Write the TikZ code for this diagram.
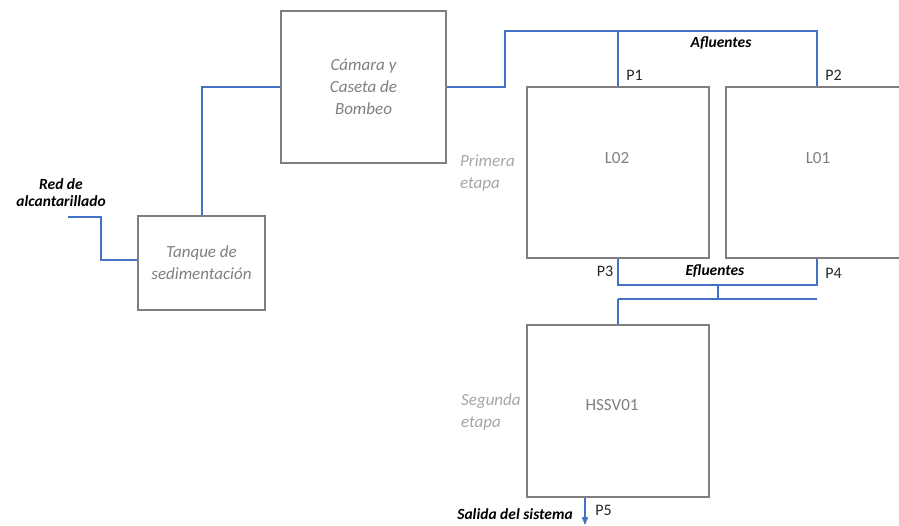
\documentclass[tikz,border=0pt]{standalone}
\usepackage{fontspec}
\setmainfont{Carlito}
\usepackage{xcolor}
\usetikzlibrary{positioning, arrows}

\definecolor{pipeblue}{HTML}{4472C4}
\definecolor{boxgray}{HTML}{7F7F7F}
\definecolor{stagegray}{HTML}{A6A6A6}

\begin{document}
\begin{tikzpicture}[x=1pt,y=-1pt,>=stealth']
       \tikzstyle{unit}=[draw=boxgray,line width=2.4pt,text=boxgray,font=\fontsize{17}{22}\selectfont\itshape,align=center,inner sep=0pt]
       \tikzstyle{unitlabel}=[text=boxgray,font=\fontsize{17}{22}\selectfont]
       \tikzstyle{pipe}=[draw=pipeblue,line width=2pt]
       \tikzstyle{port}=[font=\fontsize{16}{18}\selectfont,text=black!85]
       \tikzstyle{flowtag}=[font=\fontsize{15.5}{17}\selectfont\bfseries\itshape,align=center]
       \tikzstyle{stage}=[font=\fontsize{17}{22}\selectfont\itshape,text=stagegray,align=left,inner sep=0pt]

       \clip (0,0) rectangle (899,525);

       % units
       \node[unit, minimum width=127pt, minimum height=94pt]  (tanque) at (201.5,263) {Tanque de\\sedimentación};
       \node[unit, minimum width=165pt, minimum height=152pt] (camara) at (363.5,87)  {Cámara y\\Caseta de\\Bombeo};
       \node[unit, minimum width=182pt, minimum height=171pt] (L02)    at (618,172.5) {};
       \node[unit, minimum width=182pt, minimum height=171pt] (L01)    at (817,172.5) {};
       \node[unit, minimum width=182pt, minimum height=172pt] (hssv)   at (618,411)   {};

       \node[unitlabel] (L02txt)  at (617,158) {L02};
       \node[unitlabel] (L01txt)  at (818,158) {L01};
       \node[unitlabel] (hssvtxt) at (612,405) {HSSV01};

       \node[stage, anchor=west] (prim) at (460,173) {Primera\\etapa};
       \node[stage, anchor=west] (seg)  at (461,412) {Segunda\\etapa};

       % free ends
       \coordinate (red)  at (68,217);
       \coordinate (afl)  at (505,31);
       \coordinate (efl)  at (618,285);
       \coordinate (mix)  at (618,299);

       % pipes
       \draw[pipe] (red) -- ++(33,0) |- ([yshift=3pt]tanque.west);
       \draw[pipe] (tanque.north) |- (camara.west);
       \draw[pipe] (camara.east) -| (afl) -| (L01.north);
       \draw[pipe] (L02.north) -- (L02.north |- afl);
       \draw[pipe] (L02.south) -- (efl) -| (L01.south);
       \draw[pipe] (718,285) -- (718,299);
       \draw[pipe] (mix) -- ++(199,0);
       \draw[pipe] (mix) -- (hssv.north);
       \draw[pipe,line width=1.5pt,->] ([xshift=-33pt]hssv.south) -- ++(0,26);

       % labels
       \node[flowtag] (redtxt) at (61,193) {Red de\\alcantarillado};
       \node[flowtag] (afltxt) at (721,43)  {Afluentes};
       \node[flowtag] (efltxt) at (715,271) {Efluentes};
       \node[flowtag] (saltxt) at (515,514) {Salida del sistema};

       \node[port] (p1) at (634.5,75)  {P1};
       \node[port] (p2) at (833.5,75)  {P2};
       \node[port] (p3) at (605,271)   {P3};
       \node[port] (p4) at (833.5,273) {P4};
       \node[port] (p5) at (603.5,510) {P5};
\end{tikzpicture}
\end{document}
